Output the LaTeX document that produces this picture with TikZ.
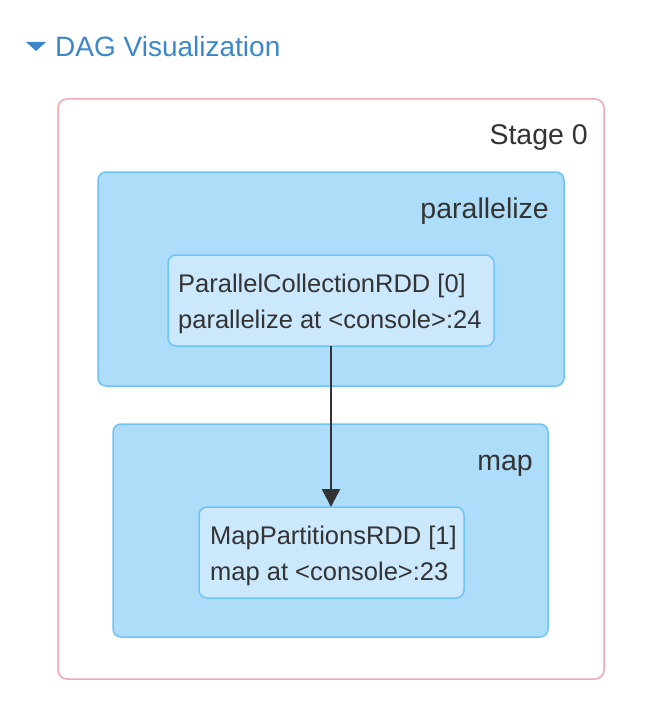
\documentclass[tikz,border=0pt]{standalone}
\usepackage{fontspec}
\setmainfont{Liberation Sans}
\usetikzlibrary{arrows.meta}
\definecolor{stagepink}{HTML}{F2A7B4}
\definecolor{clusterfill}{HTML}{AEDDFA}
\definecolor{clusterline}{HTML}{6EC4F5}
\definecolor{nodefill}{HTML}{CBE8FC}
\definecolor{titleblue}{HTML}{3C87C9}
\definecolor{txt}{HTML}{333333}
\tikzset{
  stagebox/.style={draw=stagepink, line width=1.5pt, rounded corners=9pt, fill=white},
  clusterbox/.style={draw=clusterline, line width=1.5pt, rounded corners=8pt, fill=clusterfill},
  rddbox/.style={draw=clusterline, line width=1.5pt, rounded corners=8pt, fill=nodefill},
  lbl/.style={text=txt, font=\fontsize{28.5}{33}\selectfont, inner sep=0pt, anchor=base east},
  rddtext/.style={text=txt, font=\fontsize{25.5}{30}\selectfont, inner sep=0pt, anchor=base west},
  edge/.style={draw=black!80, line width=2.4pt, -{Triangle[width=18pt,length=18pt]}}
}
\begin{document}
\begin{tikzpicture}[x=1pt,y=-1pt]
\useasboundingbox (0,0) rectangle (652,706);
% header
\fill[titleblue] (26,42) -- (46,42) -- (36,51) -- cycle;
\node[anchor=base west, inner sep=0pt, text=titleblue, font=\fontsize{28}{33}\selectfont] (title) at (55,56.5) {DAG Visualization};
% stage
\draw[stagebox] (58,99) rectangle (604,679);
\node[lbl] (stage) at (588,144) {Stage 0};
% clusters
\draw[clusterbox] (98,172) rectangle (564,386);
\node[lbl] (clpar) at (549,218) {parallelize};
\draw[clusterbox] (113,424) rectangle (548,637);
\node[lbl] (clmap) at (533,470) {map};
% rdd nodes
\draw[rddbox] (168,255) rectangle (494,346);
\coordinate (n0bot) at (331,346);
\node[rddtext] (t0a) at (178,292) {ParallelCollectionRDD [0]};
\node[rddtext] (t0b) at (178,328.5) {parallelize at <console>:24};
\draw[rddbox] (199,507) rectangle (464,598);
\coordinate (n1top) at (331,507);
\node[rddtext] (t1a) at (210,544) {MapPartitionsRDD [1]};
\node[rddtext] (t1b) at (210,580.5) {map at <console>:23};
% edge
\draw[edge] (n0bot) -- (n1top);
\end{tikzpicture}
\end{document}
